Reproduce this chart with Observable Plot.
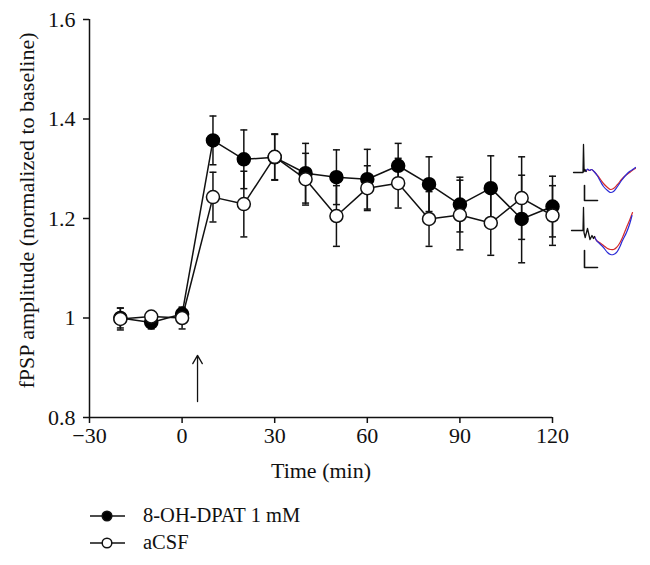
<!DOCTYPE html>
<html>
<head>
<meta charset="utf-8">
<script src="https://cdn.jsdelivr.net/npm/d3@7"></script>
<script src="https://cdn.jsdelivr.net/npm/@observablehq/plot@0.6"></script>
<style>
  html, body { margin: 0; padding: 0; background: #fff; }
  #wrap { position: relative; width: 650px; height: 565px; font-family: "Liberation Serif", "DejaVu Serif", serif; }
  #chart { position: absolute; left: 0; top: 0; }
  .inset { position: absolute; left: 570px; }
  #legend { position: absolute; left: 88px; top: 502px; font-size: 20.5px; color: #111; }
  .row { display: flex; align-items: center; height: 27px; }
  .row svg { margin-right: 15px; }
</style>
</head>
<body>
<div id="wrap">
  <div id="chart"></div>
  <div id="insetTop" class="inset" style="top:138px"></div>
  <div id="insetBottom" class="inset" style="top:200px"></div>
  <div id="legend"></div>
</div>
<script>
// ---- data ----
const time = [-20, -10, 0, 10, 20, 30, 40, 50, 60, 70, 80, 90, 100, 110, 120];
const dpatMean = [1.000, 0.991, 1.008, 1.357, 1.319, 1.323, 1.291, 1.283, 1.279, 1.306, 1.269, 1.228, 1.261, 1.199, 1.224];
const dpatSem  = [0.020, 0.013, 0.012, 0.049, 0.059, 0.046, 0.060, 0.055, 0.060, 0.045, 0.055, 0.055, 0.065, 0.088, 0.061];
const acsfMean = [0.998, 1.003, 1.000, 1.243, 1.229, 1.324, 1.279, 1.205, 1.261, 1.271, 1.199, 1.207, 1.191, 1.241, 1.206];
const acsfSem  = [0.022, 0.010, 0.022, 0.050, 0.066, 0.046, 0.052, 0.061, 0.045, 0.050, 0.055, 0.070, 0.065, 0.083, 0.060];
const seriesNames = ["8-OH-DPAT 1 mM", "aCSF"];
const xTicks = [-30, 0, 30, 60, 90, 120];
const yTicks = [0.8, 1, 1.2, 1.4, 1.6];
const xDomain = [-30, 120];
const yDomain = [0.8, 1.6];
const xLabel = "Time (min)";
const yLabel = "fPSP amplitude (normalized to baseline)";
const arrowAnnot = [{x: 5, y1: 0.832, y2: 0.925}];

// representative traces (inset), [time, amplitude] in arbitrary units
const topBlack = [[-10,0],[-0.5,0],[0,28],[0.6,1],[1.5,3],[2.5,1]];
const topRed   = [[2.5,1],[4,3],[6,2],[8,3],[11,0.5],[14,-3],[17,-7],[20,-11],[24,-15],[27,-17],[30,-16],[34,-12],[38,-7],[42,-3],[46,0],[50,3],[52,4]];
const topBlue  = [[2.5,1],[4,3.5],[6,2],[8,3],[11,0.5],[14,-3.5],[17,-9],[20,-14],[24,-18],[27,-20],[30,-19],[34,-14],[38,-8],[42,-3],[46,1],[50,3.5],[52,5]];
const topScale = [[1,-13],[1,-28],[14,-28]];
const botBlack = [[-12,0],[-0.5,0],[0,23],[0.5,-2],[1.7,-7],[4,2],[6.5,-9],[8.5,-5],[10,-8],[11,-6]];
const botRed   = [[11,-6],[13,-10],[16,-12],[20,-15],[24,-18],[27,-19],[30,-19],[33,-17],[36,-13],[39,-7],[43,3],[46,10],[49,18]];
const botBlue  = [[11,-6],[13,-10],[16,-13],[20,-17],[24,-22],[27,-24],[30,-24],[33,-22],[36,-17],[39,-10],[43,-2],[46,6],[48.5,15]];
const botScale = [[1,-20],[1,-37],[14,-37]];

// ---- build ----
const data = time.map((t, i) => ({
  t, dpat: dpatMean[i], dpatE: dpatSem[i], acsf: acsfMean[i], acsfE: acsfSem[i]
}));

const cap = { draw(ctx) { ctx.moveTo(-3.5, 0); ctx.lineTo(3.5, 0); } };

function errorMarks(key, ekey) {
  return [
    Plot.ruleX(data, {x: "t", y1: d => d[key] - d[ekey], y2: d => d[key] + d[ekey], stroke: "#111", strokeWidth: 1.5}),
    Plot.dot(data, {x: "t", y: d => d[key] - d[ekey], symbol: cap, stroke: "#111", strokeWidth: 1.5, fill: "none"}),
    Plot.dot(data, {x: "t", y: d => d[key] + d[ekey], symbol: cap, stroke: "#111", strokeWidth: 1.5, fill: "none"})
  ];
}

const chart = Plot.plot({
  width: 650,
  height: 500,
  marginLeft: 89,
  marginRight: 98,
  marginTop: 19,
  marginBottom: 83,
  style: {fontFamily: "'Liberation Serif', 'DejaVu Serif', serif", fontSize: "22px", color: "#111", background: "transparent"},
  x: {domain: xDomain},
  y: {domain: yDomain},
  marks: [
    Plot.ruleX([xDomain[0]], {y1: yDomain[0], y2: yDomain[1], stroke: "#111", strokeWidth: 1.5}),
    Plot.ruleY([yDomain[0]], {x1: xDomain[0], x2: xDomain[1], stroke: "#111", strokeWidth: 1.5}),
    Plot.axisX({ticks: xTicks, tickSize: 6, tickPadding: 4, label: null, fontSize: 22,
      tickFormat: d => d < 0 ? "\u2212" + (-d) : String(d), strokeWidth: 1.5}),
    Plot.axisY({ticks: yTicks, tickSize: 6, tickPadding: 8, label: null, fontSize: 22,
      tickFormat: d => d === 1 ? "1" : d.toFixed(1), strokeWidth: 1.5}),
    Plot.text([xLabel], {frameAnchor: "bottom", dy: 53, lineAnchor: "middle", fontSize: 22}),
    Plot.text([yLabel], {frameAnchor: "left", textAnchor: "middle", rotate: -90, dx: -63, dy: -8, lineAnchor: "middle", fontSize: 22}),
    Plot.arrow(arrowAnnot, {x1: "x", x2: "x", y1: "y1", y2: "y2", stroke: "#111", strokeWidth: 1.3, headLength: 11}),
    Plot.line(data, {x: "t", y: "dpat", stroke: "#111", strokeWidth: 1.5}),
    Plot.line(data, {x: "t", y: "acsf", stroke: "#111", strokeWidth: 1.5}),
    ...errorMarks("dpat", "dpatE"),
    ...errorMarks("acsf", "acsfE"),
    Plot.dot(data, {x: "t", y: "dpat", r: 6.5, fill: "#000", stroke: "#000", strokeWidth: 1.5}),
    Plot.dot(data, {x: "t", y: "acsf", r: 6.5, fill: "#fff", stroke: "#111", strokeWidth: 1.5})
  ]
});
document.getElementById("chart").appendChild(chart);

function inset(black, red, blue, scale, yDom) {
  return Plot.plot({
    width: 80, height: 75, margin: 0,
    x: {domain: [-13, 67], axis: null},
    y: {domain: yDom, axis: null},
    style: {background: "transparent"},
    marks: [
      Plot.line(red, {x: d => d[0], y: d => d[1], stroke: "#d62a2a", strokeWidth: 1.2, curve: "catmull-rom"}),
      Plot.line(blue, {x: d => d[0], y: d => d[1], stroke: "#2b2bd6", strokeWidth: 1.2, curve: "catmull-rom"}),
      Plot.line(black, {x: d => d[0], y: d => d[1], stroke: "#111", strokeWidth: 1.3}),
      Plot.line(scale, {x: d => d[0], y: d => d[1], stroke: "#111", strokeWidth: 1.6})
    ]
  });
}
document.getElementById("insetTop").appendChild(inset(topBlack, topRed, topBlue, topScale, [-41, 34]));
document.getElementById("insetBottom").appendChild(inset(botBlack, botRed, botBlue, botScale, [-45, 30]));

// legend
const legend = document.getElementById("legend");
seriesNames.forEach((name, i) => {
  const row = document.createElement("div");
  row.className = "row";
  const s = d3.create("svg").attr("width", 40).attr("height", 16);
  s.append("line").attr("x1", 2).attr("x2", 37).attr("y1", 8).attr("y2", 8).attr("stroke", "#111").attr("stroke-width", 1.5);
  s.append("circle").attr("cx", 19).attr("cy", 8).attr("r", 4.8)
    .attr("fill", i === 0 ? "#000" : "#fff").attr("stroke", "#111").attr("stroke-width", 1.5);
  row.appendChild(s.node());
  const span = document.createElement("span");
  span.textContent = name;
  row.appendChild(span);
  legend.appendChild(row);
});
</script>
</body>
</html>
